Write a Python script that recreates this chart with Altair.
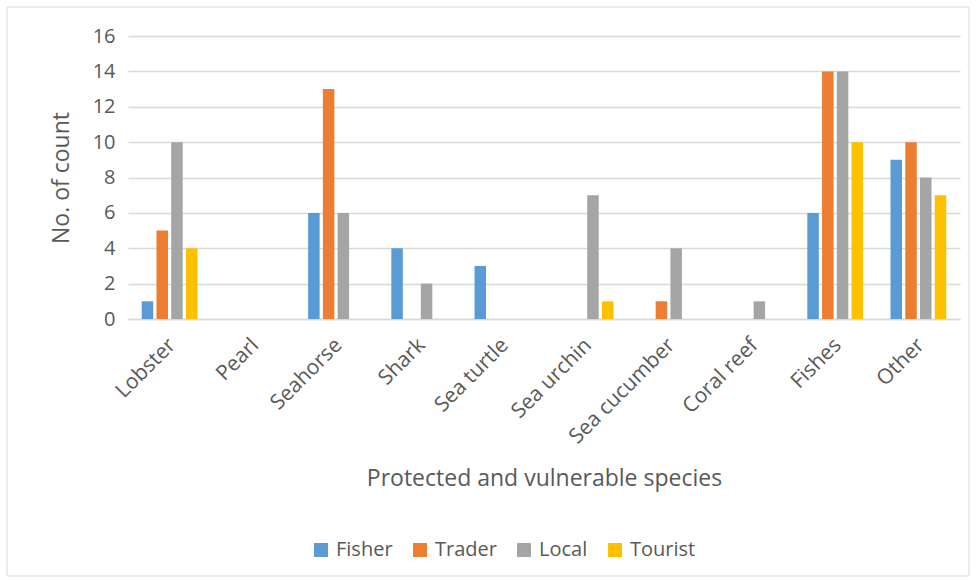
import altair as alt
import pandas as pd

categories = ["Lobster", "Pearl", "Seahorse", "Shark", "Sea turtle",
              "Sea urchin", "Sea cucumber", "Coral reef", "Fishes", "Other"]
series = ["Fisher", "Trader", "Local", "Tourist"]
fisher = [1, 0, 6, 4, 3, 0, 0, 0, 6, 9]
trader = [5, 0, 13, 0, 0, 0, 1, 0, 14, 10]
local = [10, 0, 6, 2, 0, 7, 4, 1, 14, 8]
tourist = [4, 0, 0, 0, 0, 1, 0, 0, 10, 7]
colors = ["#5B9BD5", "#ED7D31", "#A5A5A5", "#FFC000"]
y_ticks = [0, 2, 4, 6, 8, 10, 12, 14, 16]

rows = []
for s, vals in zip(series, [fisher, trader, local, tourist]):
    for c, v in zip(categories, vals):
        rows.append({"species": c, "group": s, "count": v})
df = pd.DataFrame(rows)

FONT = "Open Sans"
TXT = "#595959"
W, H = 832, 283

bars = alt.Chart(df).mark_bar().encode(
    x=alt.X("species:N", sort=categories,
            scale=alt.Scale(paddingInner=0.33, paddingOuter=0.165),
            axis=alt.Axis(title="Protected and vulnerable species", labelAngle=-45,
                          labelFontSize=21, labelColor=TXT, labelPadding=15, labelOffset=-5,
                          ticks=False, domainColor="#d9d9d9", domainWidth=1.5,
                          titleFontSize=23, titleColor=TXT, titleFontWeight="normal",
                          titleY=159, titleBaseline="middle")),
    xOffset=alt.XOffset("group:N", sort=series, scale=alt.Scale(paddingInner=0.22)),
    y=alt.Y("count:Q", scale=alt.Scale(domain=[0, 16]),
            axis=alt.Axis(title="No. of count", values=y_ticks, labelFontSize=20,
                          labelColor=TXT, labelPadding=13, ticks=False, domain=False,
                          gridColor="#d9d9d9", gridWidth=1.5,
                          titleFontSize=23, titleColor=TXT, titleFontWeight="normal",
                          titleX=-67, titleY=141.5, titleAlign="center",
                          titleBaseline="middle", titleAngle=-90)),
    color=alt.Color("group:N", sort=series,
                    scale=alt.Scale(domain=series, range=colors),
                    legend=alt.Legend(title=None, orient="none", direction="horizontal",
                                      legendX=183, legendY=504, symbolType="square",
                                      symbolSize=196, symbolStrokeWidth=0,
                                      labelFontSize=20, labelColor=TXT,
                                      columnPadding=17, labelOffset=5)),
)

border = alt.Chart(pd.DataFrame({"a": [0]})).mark_rect(
    fill=None, stroke="#d9d9d9", strokeWidth=1
).encode(x=alt.value(-121), x2=alt.value(841), y=alt.value(-29), y2=alt.value(540))

chart = alt.layer(border, bars).properties(
    width=W, height=H,
    autosize=alt.AutoSizeParams(type="none"),
    padding={"left": 128, "top": 36, "right": 17, "bottom": 262},
).configure(font=FONT).configure_view(stroke=None)

chart.save("out.html", embed_options={"renderer": "svg", "actions": False})
